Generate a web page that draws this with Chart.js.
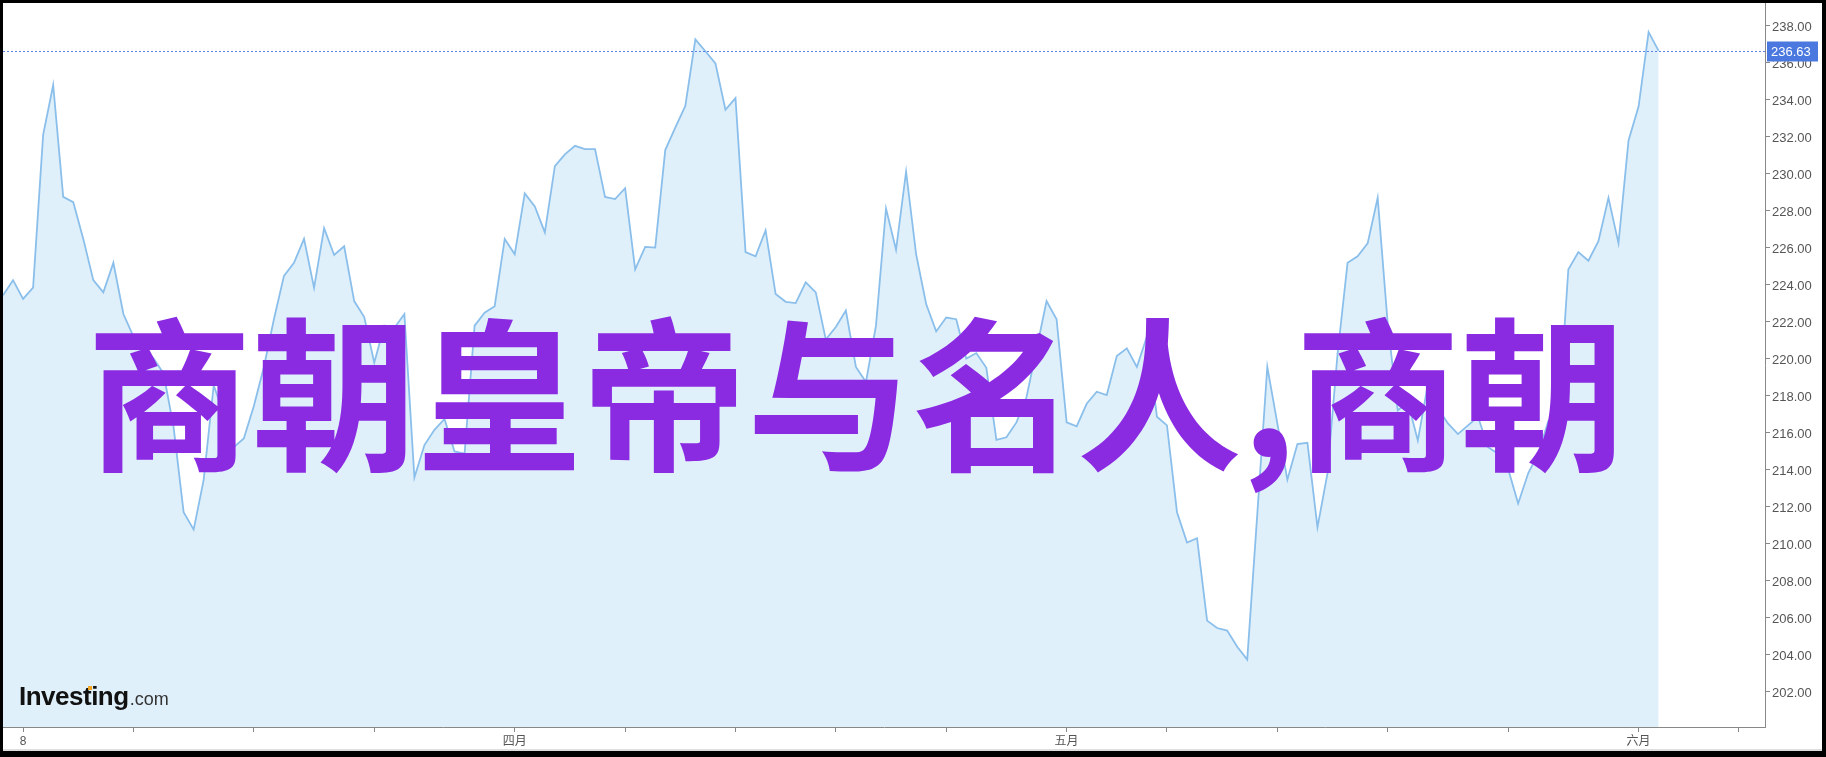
<!DOCTYPE html>
<html>
<head>
<meta charset="utf-8">
<script src="https://cdn.jsdelivr.net/npm/chart.js@4.4.1/dist/chart.umd.min.js"></script>
<style>
html, body { margin:0; padding:0; background:#000; width:1826px; height:757px; overflow:hidden; }
#quadro { position:absolute; left:3px; top:3px; width:1819px; height:746px; background:#fff; border-bottom:2px solid #dedede; }
</style>
</head>
<body>
<div id="quadro"><canvas id="grafico" width="1819" height="746"></canvas></div>
<script>
var precos = [
  223.42, 224.24, 223.23, 223.84, 232.09, 234.79, 228.74, 228.46, 226.47, 224.24,
  223.58, 225.18, 222.41, 221.19, 220.50, 220.02, 219.20, 216.30, 211.70, 210.76,
  213.45, 218.56, 217.00, 215.21, 215.68, 217.44, 219.55, 222.13, 224.47, 225.18,
  226.47, 223.82, 227.05, 225.60, 226.07, 223.11, 222.25, 219.78, 221.78, 221.66,
  222.41, 213.57, 215.33, 216.15, 216.74, 214.98, 214.86, 221.78, 222.48, 222.83,
  226.47, 225.64, 228.93, 228.22, 226.82, 230.40, 231.04, 231.50, 231.32, 231.32,
  228.74, 228.62, 229.21, 224.82, 226.04, 226.00, 231.27, 232.49, 233.66, 237.25,
  236.61, 235.96, 233.45, 234.08, 225.76, 225.53, 226.93, 223.49, 223.07, 223.00,
  224.12, 223.58, 221.03, 221.71, 222.60, 219.55, 218.73, 221.78, 228.11, 225.88,
  230.10, 225.65, 222.95, 221.47, 222.22, 222.13, 220.00, 220.30, 219.50, 215.61,
  215.75, 216.55, 217.91, 220.49, 223.11, 222.13, 216.55, 216.34, 217.56, 218.21,
  218.03, 220.14, 220.56, 219.55, 221.19, 216.86, 216.39, 211.70, 210.06, 210.29,
  205.84, 205.44, 205.30, 204.43, 203.73, 211.58, 219.55, 216.50, 213.45, 215.38,
  215.45, 210.88, 213.81, 220.25, 225.18, 225.53, 226.23, 228.69, 221.89, 217.20,
  217.67, 215.57, 218.61, 217.32, 216.50, 215.92, 216.39, 216.86, 215.21, 214.86,
  214.04, 212.17, 213.80, 214.86, 216.62, 216.62, 224.82, 225.76, 225.29, 226.35,
  228.69, 226.23, 231.79, 233.62, 237.65, 236.63
];
var marcasX = [2, 13, 25, 37, 51, 62, 73, 83, 94, 106, 116, 127, 138, 150, 163, 173];
var rotulosX = {2: "8", 51: "四月", 106: "五月", 163: "六月"};
var marcasY = [202, 204, 206, 208, 210, 212, 214, 216, 218, 220, 222, 224, 226, 228, 230, 232, 234, 236, 238];
var titulo = "商朝皇帝与名人,商朝";

var ultimo = precos[precos.length - 1];
var pontos = precos.map(function(v, i){ return {x: i, y: v}; });

function semPadding(s) {
  s.paddingTop = 0;
  s.paddingBottom = 0;
  s.paddingLeft = 0;
  s.paddingRight = 0;
}

var extras = {
  id: "extras",
  afterDraw: function(chart) {
    var ctx = chart.ctx;
    var area = chart.chartArea;
    var y = Math.round(chart.scales.y.getPixelForValue(ultimo)) + 0.5;

    // linha pontilhada do ultimo preco
    ctx.save();
    ctx.strokeStyle = "#5b82e3";
    ctx.lineWidth = 1;
    ctx.setLineDash([2, 2]);
    ctx.beginPath();
    ctx.moveTo(area.left, y);
    ctx.lineTo(area.right, y);
    ctx.stroke();
    ctx.setLineDash([]);

    ctx.fillStyle = "#4a78df";
    ctx.fillRect(area.right + 2, y - 10, 51, 20);
    ctx.fillStyle = "#fff";
    ctx.font = "13px 'Liberation Sans', Arial";
    ctx.textBaseline = "middle";
    ctx.textAlign = "left";
    ctx.fillText(ultimo.toFixed(2), area.right + 6, y + 1);

    // logo
    ctx.textBaseline = "alphabetic";
    ctx.fillStyle = "#111";
    ctx.font = "bold 26px 'Liberation Sans', Arial";
    ctx.letterSpacing = "-0.5px";
    ctx.fillText("Investing", 16, 702);
    var w = ctx.measureText("Investing").width;
    ctx.fillStyle = "#f5a623";
    ctx.fillRect(16 + w * 0.63, 683, 4, 4);
    ctx.letterSpacing = "0px";
    ctx.fillStyle = "#333";
    ctx.font = "18px 'Liberation Sans', Arial";
    ctx.fillText(".com", 16 + w + 1, 702);

    // titulo roxo
    ctx.fillStyle = "#8a2be2";
    ctx.font = "bold 165px 'Noto Sans CJK SC'";
    ctx.textAlign = "center";
    ctx.textBaseline = "middle";
    ctx.fillText(titulo, 853, 392);
    ctx.restore();
  }
};

var ctx = document.getElementById("grafico").getContext("2d");
var myChart = new Chart(ctx, {
  type: "line",
  data: {
    datasets: [
      {
        data: pontos,
        borderColor: "#8bbfeb",
        borderWidth: 1.8,
        backgroundColor: "#e0f0fa",
        fill: "start",
        pointRadius: 0,
        tension: 0
      }
    ]
  },
  options: {
    responsive: false,
    animation: false,
    layout: { padding: 0 },
    plugins: { legend: { display: false }, tooltip: { enabled: false } },
    scales: {
      x: {
        type: "linear",
        min: 0,
        max: 175.6,
        afterBuildTicks: function(s) { s.ticks = marcasX.map(function(v){ return {value: v}; }); },
        afterFit: function(s) { s.height = 22; semPadding(s); },
        grid: { drawOnChartArea: false, drawTicks: true, tickLength: 5, color: "#888" },
        border: { color: "#888", width: 1 },
        ticks: {
          autoSkip: false,
          maxRotation: 0,
          padding: 2,
          color: "#555",
          font: { size: 12, family: "'Liberation Sans', Arial, 'Noto Sans CJK SC'" },
          callback: function(v) { return rotulosX[v] || ""; }
        }
      },
      y: {
        position: "right",
        min: 200.09,
        max: 239.22,
        afterBuildTicks: function(s) { s.ticks = marcasY.map(function(v){ return {value: v}; }); },
        afterFit: function(s) { s.width = 57; semPadding(s); },
        grid: { drawOnChartArea: false, drawTicks: true, tickLength: 5, color: "#888" },
        border: { color: "#888", width: 1 },
        ticks: {
          padding: 2,
          labelOffset: 2,
          color: "#555",
          font: { size: 13, family: "'Liberation Sans', Arial" },
          callback: function(v) { return Number(v).toFixed(2); }
        }
      }
    }
  },
  plugins: [extras]
});
</script>
</body>
</html>
